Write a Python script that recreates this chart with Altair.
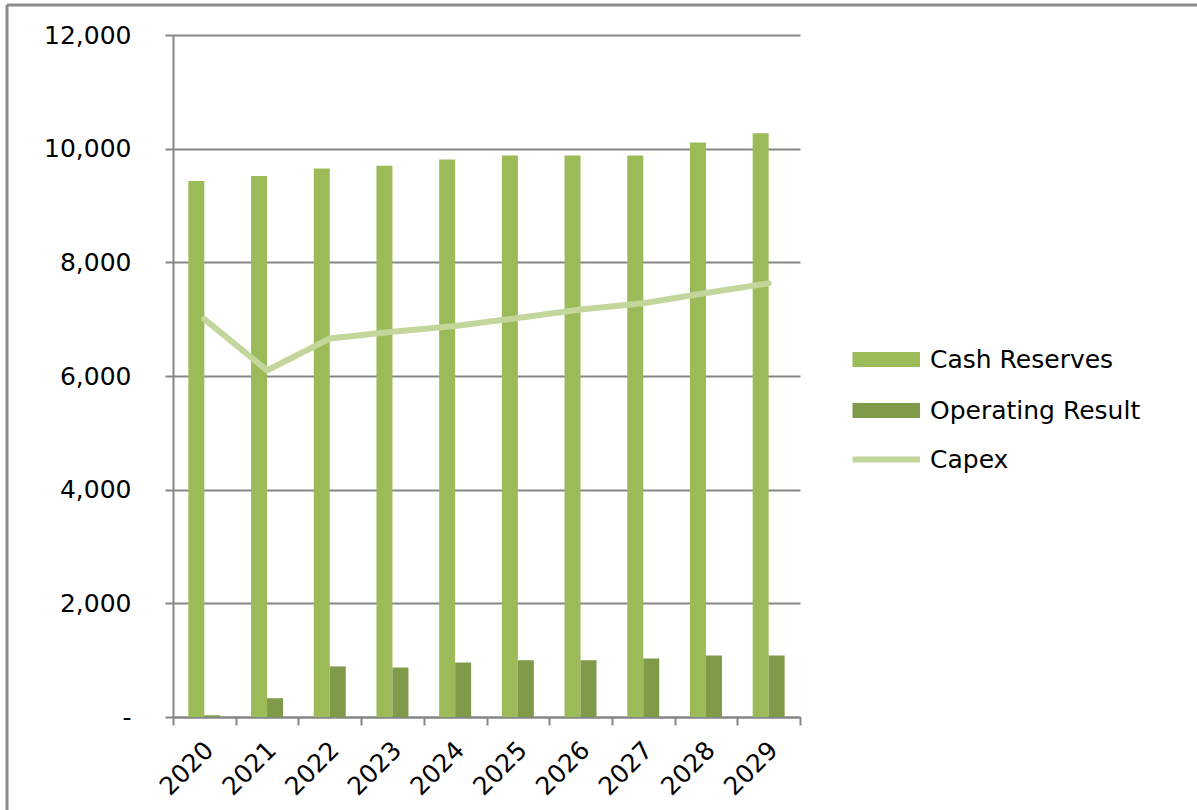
import altair as alt
import pandas as pd

years = [str(y) for y in range(2020, 2030)]
cash_reserves = [9430, 9520, 9650, 9700, 9810, 9880, 9880, 9880, 10110, 10270]
operating_result = [30, 330, 890, 870, 960, 1000, 1000, 1030, 1080, 1080]
capex = [7000, 6100, 6660, 6780, 6880, 7020, 7170, 7280, 7460, 7630]
y_ticks = [0, 2000, 4000, 6000, 8000, 10000, 12000]

bar_series = ["Cash Reserves", "Operating Result"]
bar_colors = ["#9BBB59", "#7F9A48"]
line_series = ["Capex"]
line_colors = ["#C3D69B"]

bars_df = pd.DataFrame({
    "Year": years * 2,
    "Series": [bar_series[0]] * len(years) + [bar_series[1]] * len(years),
    "Value": cash_reserves + operating_result,
})
line_df = pd.DataFrame({"Year": years, "Series": line_series * len(years), "Value": capex})

FONT = "DejaVu Sans"
GRID = "#868686"
FS = 25

x_enc = alt.X(
    "Year:N", sort=years,
    scale=alt.Scale(paddingInner=0, paddingOuter=0),
    axis=alt.Axis(title=None, labelAngle=-45, labelAlign="right", labelBaseline="top",
                  tickBand="extent", tickSize=8, tickWidth=2, tickColor=GRID,
                  domainColor=GRID, domainWidth=2, labelFontSize=FS, labelFont=FONT,
                  labelColor="#000000", labelPadding=12, labelOffset=-4, grid=False),
)
y_enc = alt.Y(
    "Value:Q",
    scale=alt.Scale(domain=[0, 12000], nice=False, zero=True),
    axis=alt.Axis(title=None, values=y_ticks,
                  labelExpr="datum.value == 0 ? '-' : format(datum.value, ',')",
                  grid=True, gridColor=GRID, gridWidth=2, tickColor=GRID, tickWidth=2,
                  tickSize=8, domainColor=GRID, domainWidth=2, labelPadding=34,
                  labelFontSize=FS, labelFont=FONT, labelColor="#000000"),
)

bars = alt.Chart(bars_df).mark_bar().encode(
    x=x_enc,
    y=y_enc,
    xOffset=alt.XOffset("Series:N", sort=bar_series,
                        scale=alt.Scale(paddingInner=0, paddingOuter=0.96)),
    color=alt.Color("Series:N", sort=bar_series,
                    scale=alt.Scale(domain=bar_series, range=bar_colors),
                    legend=alt.Legend(title=None, orient="none", legendX=727, legendY=312,
                                      symbolType="M-8,-1H1V1H-8Z", symbolSize=225,
                                      symbolStrokeWidth=0, symbolOpacity=1,
                                      labelFontSize=FS, labelFont=FONT, labelColor="#000000",
                                      labelLimit=400, rowPadding=25, labelOffset=5, padding=0)),
)

line = alt.Chart(line_df).mark_line(strokeWidth=6, strokeCap="round").encode(
    x=x_enc,
    y=y_enc,
    stroke=alt.Stroke("Series:N",
                      scale=alt.Scale(domain=line_series, range=line_colors),
                      legend=alt.Legend(title=None, orient="none", legendX=727, legendY=412,
                                        symbolType="M-8,0H1", symbolSize=225,
                                        symbolStrokeWidth=6, symbolOpacity=1,
                                        labelFontSize=FS, labelFont=FONT, labelColor="#000000",
                                        labelLimit=400, labelOffset=5, padding=0)),
)

frame_df = pd.DataFrame({"k": [0]})
frame_left = alt.Chart(frame_df).mark_rule(color="#8C8C8C", strokeWidth=3).encode(
    x=alt.value(-166), y=alt.value(-30), y2=alt.value(800))
frame_top = alt.Chart(frame_df).mark_rule(color="#8C8C8C", strokeWidth=3).encode(
    x=alt.value(-166), x2=alt.value(1100), y=alt.value(-30))

chart = alt.layer(bars, line, frame_left, frame_top).resolve_scale(
    color="independent", stroke="independent"
).properties(
    width=627, height=682,
    autosize=alt.AutoSizeParams(type="none"),
    padding={"left": 173, "top": 35, "right": 397, "bottom": 93},
    background="white",
).configure_view(stroke=None)

chart.save("out.html", embed_options={"renderer": "svg", "actions": False})
